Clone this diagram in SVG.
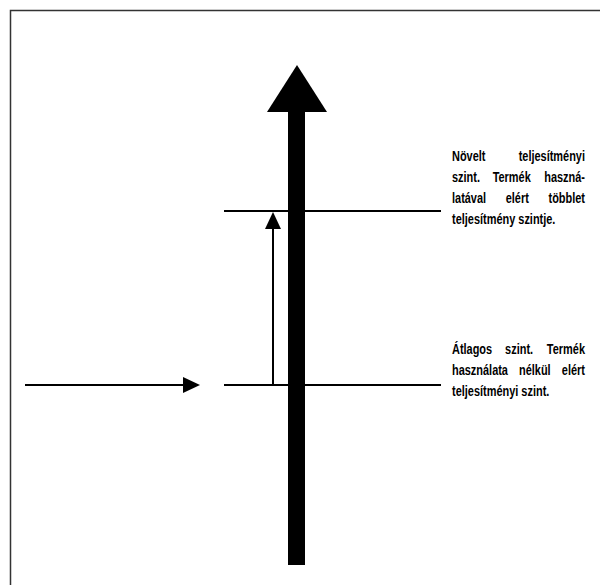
<svg xmlns="http://www.w3.org/2000/svg" width="600" height="585" viewBox="0 0 600 585">
<style>
.t{font-family:"Liberation Sans",Arial,sans-serif;font-weight:bold;font-size:15px;fill:#000}
.e{text-anchor:end}
.ln{stroke:#000;stroke-width:2;fill:none}
</style>
<rect width="600" height="585" fill="#fff"/>
<path d="M10.5,585 V10.5 H600" stroke="#333" stroke-width="1.5" fill="none"/>
<g id="main-arrow">
<rect x="288" y="110" width="17" height="455" fill="#000"/>
<polygon points="297,65 327,112 267,112" fill="#000"/>
</g>
<g id="connectors">
<line class="ln" x1="224" y1="211" x2="441" y2="211"/>
<line class="ln" x1="224" y1="385" x2="441" y2="385"/>
<line class="ln" x1="25" y1="385" x2="183" y2="385"/>
<polygon points="183,377 200,385 183,393" fill="#000"/>
<line class="ln" x1="273" y1="385" x2="273" y2="228"/>
<polygon points="265,229 273,212 281,229" fill="#000"/>
</g>
<g id="label-top" transform="translate(452,0) scale(0.73,1)">
<text class="t" x="0" y="161">Növelt</text>
<text class="t e" x="182.2" y="161">teljesítményi</text>
<text class="t" x="0" y="182">szint.</text>
<text class="t" x="55.7" y="182">Termék</text>
<text class="t e" x="182.2" y="182">haszná-</text>
<text class="t" x="0" y="203">latával</text>
<text class="t" x="73.6" y="203">elért</text>
<text class="t e" x="182.2" y="203">többlet</text>
<text class="t" x="0" y="224">teljesítmény szintje.</text>
</g>
<g id="label-bottom" transform="translate(452,0) scale(0.73,1)">
<text class="t" x="0" y="354">Átlagos</text>
<text class="t" x="72.75" y="354">szint.</text>
<text class="t e" x="182.2" y="354">Termék</text>
<text class="t" x="0" y="375">használata</text>
<text class="t" x="91.8" y="375">nélkül</text>
<text class="t e" x="182.2" y="375">elért</text>
<text class="t" x="0" y="396">teljesítményi szint.</text>
</g>
</svg>
